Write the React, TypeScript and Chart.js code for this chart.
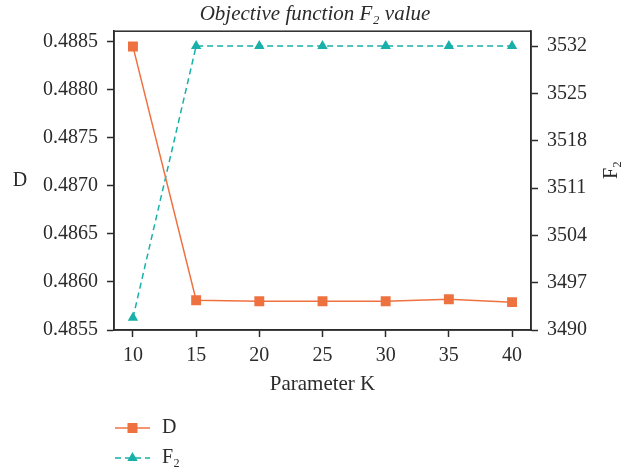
import React, { useEffect, useRef } from "react";
import { Chart, registerables } from "chart.js";

Chart.register(...registerables);

const kValues = [10, 15, 20, 25, 30, 35, 40];
const dValues = [0.48845, 0.48581, 0.4858, 0.4858, 0.4858, 0.48582, 0.48579];
const f2Values = [3491.8, 3532, 3532, 3532, 3532, 3532, 3532];
const kTicks = [10, 15, 20, 25, 30, 35, 40];
const dTicks = [0.4855, 0.486, 0.4865, 0.487, 0.4875, 0.488, 0.4885];
const f2Ticks = [3490, 3497, 3504, 3511, 3518, 3525, 3532];
const seriesNames = ["D", "F\u2082"];
const titleText = "Objective function F\u2082 value";
const xTitle = "Parameter K";

const ORANGE = "#EE7240";
const TEAL = "#18B0A9";
const INK = "#2b2b2b";
const FONT = "'Liberation Serif', 'DejaVu Serif', serif";

const decorPlugin = {
  id: "decor",
  afterDraw(chart: any) {
    const ctx = chart.ctx;
    const a = chart.chartArea;
    ctx.save();
    // frame
    ctx.strokeStyle = INK;
    ctx.lineWidth = 1.5;
    ctx.strokeRect(a.left, a.top, a.right - a.left, a.bottom - a.top);
    // axis titles
    ctx.fillStyle = INK;
    ctx.font = `20px ${FONT}`;
    ctx.textAlign = "center";
    ctx.textBaseline = "middle";
    ctx.fillText(seriesNames[0], 20, 181);
    ctx.save();
    ctx.translate(612, 170);
    ctx.rotate(-Math.PI / 2);
    ctx.fillText(seriesNames[1], 0, 0);
    ctx.restore();
    // legend
    const rows = [428, 458];
    chart.data.datasets.forEach((ds: any, i: number) => {
      const y = rows[i];
      ctx.save();
      ctx.strokeStyle = ds.borderColor;
      ctx.lineWidth = ds.borderWidth;
      ctx.setLineDash(ds.borderDash || []);
      ctx.beginPath();
      ctx.moveTo(115, y);
      ctx.lineTo(150, y);
      ctx.stroke();
      ctx.setLineDash([]);
      ctx.fillStyle = ds.pointBackgroundColor;
      const cx = 132.5;
      if (ds.pointStyle === "rect") {
        ctx.fillRect(cx - 5, y - 5, 10, 10);
      } else {
        const r = 6;
        ctx.beginPath();
        ctx.moveTo(cx, y - r);
        ctx.lineTo(cx + r * 0.866, y + r * 0.5);
        ctx.lineTo(cx - r * 0.866, y + r * 0.5);
        ctx.closePath();
        ctx.fill();
      }
      ctx.restore();
      ctx.fillStyle = INK;
      ctx.font = `20px ${FONT}`;
      ctx.textAlign = "left";
      ctx.textBaseline = "middle";
      ctx.fillText(ds.label, 162, y);
    });
    ctx.restore();
  },
};

export default function App() {
  const ref = useRef<HTMLCanvasElement>(null);
  useEffect(() => {
    if (!ref.current) return;
    const tickFont = { family: FONT, size: 20 };
    const chart = new Chart(ref.current, {
      type: "line",
      data: {
        datasets: [
          {
            label: seriesNames[0],
            data: kValues.map((k, i) => ({ x: k, y: dValues[i] })),
            yAxisID: "yD",
            borderColor: ORANGE,
            backgroundColor: ORANGE,
            pointBackgroundColor: ORANGE,
            pointBorderColor: ORANGE,
            pointStyle: "rect",
            pointRadius: 7,
            pointBorderWidth: 0,
            borderWidth: 1.5,
            tension: 0,
          },
          {
            label: seriesNames[1],
            data: kValues.map((k, i) => ({ x: k, y: f2Values[i] })),
            yAxisID: "yF",
            borderColor: TEAL,
            backgroundColor: TEAL,
            pointBackgroundColor: TEAL,
            pointBorderColor: TEAL,
            pointStyle: "triangle",
            pointRadius: 6,
            pointBorderWidth: 0,
            borderWidth: 1.5,
            borderDash: [6, 4],
            tension: 0,
          },
        ],
      },
      options: {
        animation: false,
        responsive: false,
        maintainAspectRatio: false,
        layout: { padding: { top: 0, left: 0, right: 0, bottom: 72 } },
        plugins: {
          legend: { display: false },
          tooltip: { enabled: false },
          title: {
            display: true,
            text: titleText,
            color: INK,
            font: { family: FONT, size: 21, style: "italic", weight: "normal" },
            padding: { top: 2, bottom: 4 },
          },
        },
        scales: {
          x: {
            type: "linear",
            min: 8.5,
            max: 41.5,
            afterBuildTicks: (s: any) => {
              s.ticks = kTicks.map((v) => ({ value: v }));
            },
            afterFit: (s: any) => {
              s.height = 70;
            },
            grid: { drawOnChartArea: false, drawTicks: true, tickLength: 7, tickColor: INK, tickWidth: 1.5 },
            border: { display: true, color: INK, width: 1.5 },
            ticks: { color: INK, font: tickFont, padding: 7, maxRotation: 0 },
            title: { display: true, text: xTitle, color: INK, font: { family: FONT, size: 21 }, padding: { top: 0, bottom: 3 } },
          },
          yD: {
            type: "linear",
            position: "left",
            min: 0.4855,
            max: 0.48861,
            afterBuildTicks: (s: any) => {
              s.ticks = dTicks.map((v) => ({ value: v }));
            },
            afterFit: (s: any) => {
              s.width = 114;
            },
            grid: { drawOnChartArea: false, drawTicks: true, tickLength: 7, tickColor: INK, tickWidth: 1.5 },
            border: { display: true, color: INK, width: 1.5 },
            ticks: { color: INK, font: tickFont, padding: 9, callback: (v: any) => Number(v).toFixed(4) },
          },
          yF: {
            type: "linear",
            position: "right",
            min: 3490,
            max: 3534.2,
            afterBuildTicks: (s: any) => {
              s.ticks = f2Ticks.map((v) => ({ value: v }));
            },
            afterFit: (s: any) => {
              s.width = 99;
            },
            grid: { drawOnChartArea: false, drawTicks: true, tickLength: 7, tickColor: INK, tickWidth: 1.5 },
            border: { display: true, color: INK, width: 1.5 },
            ticks: { color: INK, font: tickFont, padding: 9, callback: (v: any) => String(v) },
          },
        },
      },
      plugins: [decorPlugin],
    });
    return () => chart.destroy();
  }, []);
  return (
    <div style={{ position: "absolute", left: 0, top: 0, width: 630, height: 472, background: "#fff" }}>
      <canvas ref={ref} width={630} height={472} style={{ width: 630, height: 472 }} />
    </div>
  );
}
